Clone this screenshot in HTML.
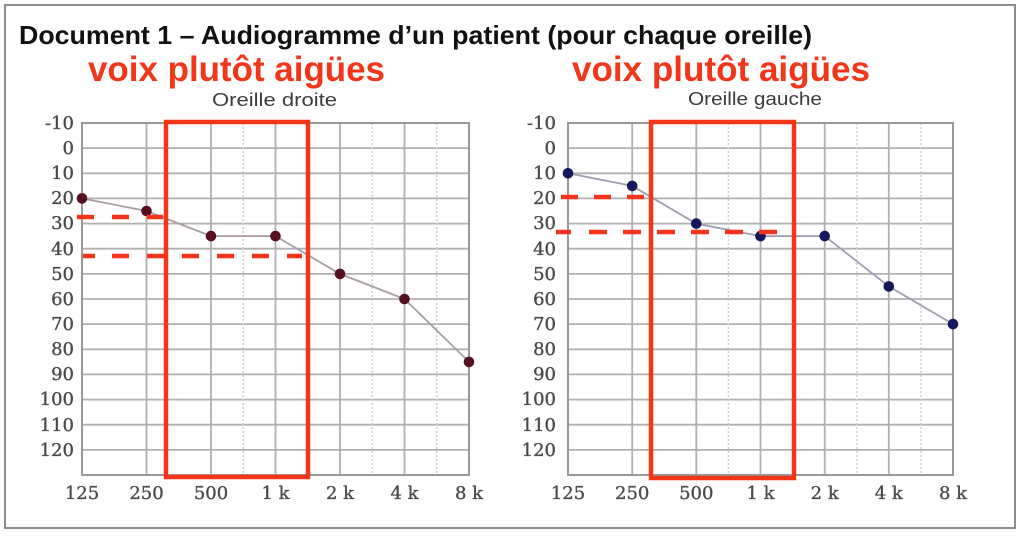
<!DOCTYPE html>
<html><head><meta charset="utf-8">
<style>
html,body{margin:0;padding:0;background:#fff;}
svg{display:block;}
</style></head>
<body>
<svg width="1024" height="536" viewBox="0 0 1024 536" xmlns="http://www.w3.org/2000/svg">
<rect x="0" y="0" width="1024" height="536" fill="#fff"/>
<rect x="5" y="5" width="1010" height="523" fill="none" stroke="#8c8c8c" stroke-width="2"/>

<text x="19" y="44" font-family="Liberation Sans, Arial, sans-serif" font-weight="bold" font-size="26" fill="#111" textLength="793" lengthAdjust="spacingAndGlyphs">Document 1 – Audiogramme d’un patient (pour chaque oreille)</text>

<text x="88" y="81" font-family="Liberation Sans, Arial, sans-serif" font-weight="bold" font-size="35" fill="#f3351a" textLength="297" lengthAdjust="spacingAndGlyphs">voix plutôt aigües</text>
<text x="572" y="81" font-family="Liberation Sans, Arial, sans-serif" font-weight="bold" font-size="35" fill="#f3351a" textLength="298" lengthAdjust="spacingAndGlyphs">voix plutôt aigües</text>

<text x="212" y="106" font-family="Liberation Sans, Arial, sans-serif" font-size="18" fill="#3c3c3c" textLength="125" lengthAdjust="spacingAndGlyphs">Oreille droite</text>
<text x="688" y="105" font-family="Liberation Sans, Arial, sans-serif" font-size="18" fill="#3c3c3c" textLength="134" lengthAdjust="spacingAndGlyphs">Oreille gauche</text>

<!-- LEFT CHART -->
<g>
  <g stroke="#b0b0b0" stroke-width="1.8">
    <line x1="82" y1="148.1" x2="469" y2="148.1"/>
    <line x1="82" y1="173.3" x2="469" y2="173.3"/>
    <line x1="82" y1="198.4" x2="469" y2="198.4"/>
    <line x1="82" y1="223.6" x2="469" y2="223.6"/>
    <line x1="82" y1="248.7" x2="469" y2="248.7"/>
    <line x1="82" y1="273.9" x2="469" y2="273.9"/>
    <line x1="82" y1="299" x2="469" y2="299"/>
    <line x1="82" y1="324.1" x2="469" y2="324.1"/>
    <line x1="82" y1="349.3" x2="469" y2="349.3"/>
    <line x1="82" y1="374.4" x2="469" y2="374.4"/>
    <line x1="82" y1="399.6" x2="469" y2="399.6"/>
    <line x1="82" y1="424.7" x2="469" y2="424.7"/>
    <line x1="82" y1="449.9" x2="469" y2="449.9"/>
    <line x1="146.5" y1="123" x2="146.5" y2="475"/>
    <line x1="211" y1="123" x2="211" y2="475"/>
    <line x1="275.5" y1="123" x2="275.5" y2="475"/>
    <line x1="340" y1="123" x2="340" y2="475"/>
    <line x1="404.5" y1="123" x2="404.5" y2="475"/>
  </g>
  <g stroke="#cfcfcf" stroke-width="1.4" stroke-dasharray="2 2">
    <line x1="243.25" y1="123" x2="243.25" y2="475"/>
    <line x1="372.25" y1="123" x2="372.25" y2="475"/>
    <line x1="436.75" y1="123" x2="436.75" y2="475"/>
  </g>
  <rect x="82" y="123" width="387" height="352" fill="none" stroke="#999" stroke-width="2"/>
  <g font-family="DejaVu Serif, Liberation Serif, serif" font-size="18" fill="#4a4a4a" stroke="#4a4a4a" stroke-width="0.35" text-anchor="end">
    <text x="74" y="129">-10</text>
    <text x="74" y="154">0</text>
    <text x="74" y="179">10</text>
    <text x="74" y="204">20</text>
    <text x="74" y="229">30</text>
    <text x="74" y="255">40</text>
    <text x="74" y="280">50</text>
    <text x="74" y="305">60</text>
    <text x="74" y="330">70</text>
    <text x="74" y="355">80</text>
    <text x="74" y="380">90</text>
    <text x="74" y="405">100</text>
    <text x="74" y="431">110</text>
    <text x="74" y="456">120</text>
  </g>
  <g font-family="DejaVu Serif, Liberation Serif, serif" font-size="18" fill="#4a4a4a" stroke="#4a4a4a" stroke-width="0.35" text-anchor="middle">
    <text x="82" y="499">125</text>
    <text x="146.5" y="499">250</text>
    <text x="211" y="499">500</text>
    <text x="275.5" y="499">1 k</text>
    <text x="340" y="499">2 k</text>
    <text x="404.5" y="499">4 k</text>
    <text x="469" y="499">8 k</text>
  </g>
  <polyline points="82,198.4 146.5,211 211,236.1 275.5,236.1 340,273.9 404.5,299 469,361.9" fill="none" stroke="#a99ca6" stroke-width="1.8"/>
  <g fill="#561020">
    <circle cx="82" cy="198.4" r="5.3"/>
    <circle cx="146.5" cy="211" r="5.3"/>
    <circle cx="211" cy="236.1" r="5.3"/>
    <circle cx="275.5" cy="236.1" r="5.3"/>
    <circle cx="340" cy="273.9" r="5.3"/>
    <circle cx="404.5" cy="299" r="5.3"/>
    <circle cx="469" cy="361.9" r="5.3"/>
  </g>
  <rect x="166" y="122" width="142" height="355" fill="none" stroke="#f3351a" stroke-width="4.5"/>
  <g stroke="#f3351a" stroke-width="4.5" fill="none">
    <line x1="77" y1="217" x2="163" y2="217" stroke-dasharray="17 18"/>
    <line x1="83" y1="256" x2="302" y2="256" stroke-dasharray="12 17 17 18 17 18 17 18 17 18 17 18 17 18"/>
  </g>
</g>

<!-- RIGHT CHART -->
<g>
  <g stroke="#b0b0b0" stroke-width="1.8">
    <line x1="568" y1="148.1" x2="953" y2="148.1"/>
    <line x1="568" y1="173.3" x2="953" y2="173.3"/>
    <line x1="568" y1="198.4" x2="953" y2="198.4"/>
    <line x1="568" y1="223.6" x2="953" y2="223.6"/>
    <line x1="568" y1="248.7" x2="953" y2="248.7"/>
    <line x1="568" y1="273.9" x2="953" y2="273.9"/>
    <line x1="568" y1="299" x2="953" y2="299"/>
    <line x1="568" y1="324.1" x2="953" y2="324.1"/>
    <line x1="568" y1="349.3" x2="953" y2="349.3"/>
    <line x1="568" y1="374.4" x2="953" y2="374.4"/>
    <line x1="568" y1="399.6" x2="953" y2="399.6"/>
    <line x1="568" y1="424.7" x2="953" y2="424.7"/>
    <line x1="568" y1="449.9" x2="953" y2="449.9"/>
    <line x1="632.2" y1="123" x2="632.2" y2="475"/>
    <line x1="696.3" y1="123" x2="696.3" y2="475"/>
    <line x1="760.5" y1="123" x2="760.5" y2="475"/>
    <line x1="824.7" y1="123" x2="824.7" y2="475"/>
    <line x1="888.8" y1="123" x2="888.8" y2="475"/>
  </g>
  <g stroke="#cfcfcf" stroke-width="1.4" stroke-dasharray="2 2">
    <line x1="728.4" y1="123" x2="728.4" y2="475"/>
    <line x1="856.8" y1="123" x2="856.8" y2="475"/>
    <line x1="920.9" y1="123" x2="920.9" y2="475"/>
  </g>
  <rect x="568" y="123" width="385" height="352" fill="none" stroke="#999" stroke-width="2"/>
  <g font-family="DejaVu Serif, Liberation Serif, serif" font-size="18" fill="#4a4a4a" stroke="#4a4a4a" stroke-width="0.35" text-anchor="end">
    <text x="556" y="129">-10</text>
    <text x="556" y="154">0</text>
    <text x="556" y="179">10</text>
    <text x="556" y="204">20</text>
    <text x="556" y="229">30</text>
    <text x="556" y="255">40</text>
    <text x="556" y="280">50</text>
    <text x="556" y="305">60</text>
    <text x="556" y="330">70</text>
    <text x="556" y="355">80</text>
    <text x="556" y="380">90</text>
    <text x="556" y="405">100</text>
    <text x="556" y="431">110</text>
    <text x="556" y="456">120</text>
  </g>
  <g font-family="DejaVu Serif, Liberation Serif, serif" font-size="18" fill="#4a4a4a" stroke="#4a4a4a" stroke-width="0.35" text-anchor="middle">
    <text x="568" y="499">125</text>
    <text x="632.2" y="499">250</text>
    <text x="696.3" y="499">500</text>
    <text x="760.5" y="499">1 k</text>
    <text x="824.7" y="499">2 k</text>
    <text x="888.8" y="499">4 k</text>
    <text x="953" y="499">8 k</text>
  </g>
  <polyline points="568,173.3 632.2,185.9 696.3,223.6 760.5,236.1 824.7,236.1 888.8,286.4 953,324.1" fill="none" stroke="#9e9cb2" stroke-width="1.8"/>
  <g fill="#16165a">
    <circle cx="568" cy="173.3" r="5.3"/>
    <circle cx="632.2" cy="185.9" r="5.3"/>
    <circle cx="696.3" cy="223.6" r="5.3"/>
    <circle cx="760.5" cy="236.1" r="5.3"/>
    <circle cx="824.7" cy="236.1" r="5.3"/>
    <circle cx="888.8" cy="286.4" r="5.3"/>
    <circle cx="953" cy="324.1" r="5.3"/>
  </g>
  <rect x="651" y="122" width="143" height="356" fill="none" stroke="#f3351a" stroke-width="4.5"/>
  <g stroke="#f3351a" stroke-width="4.5" fill="none">
    <line x1="561" y1="197" x2="647" y2="197" stroke-dasharray="17 16"/>
    <line x1="556" y1="232" x2="777" y2="232" stroke-dasharray="15 18 18 16 18 16 18 16 18 16 18 16 18 16"/>
  </g>
</g>
</svg>
</body></html>
